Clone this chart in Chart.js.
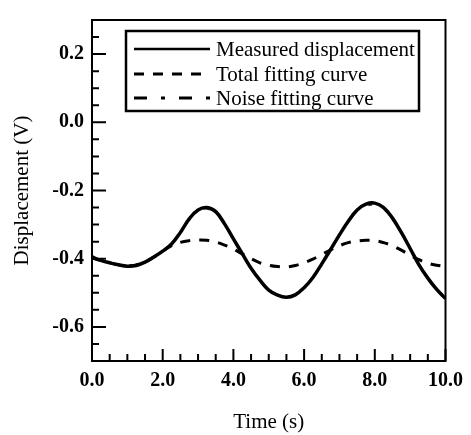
<!DOCTYPE html>
<html>
<head>
<meta charset="utf-8">
<script src="https://cdn.jsdelivr.net/npm/chart.js@4.4.0/dist/chart.umd.min.js"></script>
<style>
  html, body { margin: 0; padding: 0; background: #fff; }
  #wrap { width: 471px; height: 435px; }
</style>
</head>
<body>
<div id="wrap"><canvas id="c" width="471" height="435"></canvas></div>
<script>
// ---- data ----
const time = [0,0.25,0.5,0.75,1,1.25,1.5,1.75,2,2.25,2.5,2.75,3,3.25,3.5,3.75,4,4.25,4.5,4.75,5,5.25,5.5,5.75,6,6.25,6.5,6.75,7,7.25,7.5,7.75,8,8.25,8.5,8.75,9,9.25,9.5,9.75,10];
const measured = [-0.395,-0.405,-0.412,-0.418,-0.422,-0.420,-0.410,-0.395,-0.378,-0.357,-0.323,-0.283,-0.257,-0.250,-0.262,-0.298,-0.342,-0.385,-0.428,-0.463,-0.492,-0.507,-0.513,-0.506,-0.485,-0.455,-0.415,-0.373,-0.330,-0.290,-0.257,-0.240,-0.237,-0.250,-0.281,-0.323,-0.370,-0.418,-0.457,-0.490,-0.517];
const totalFit = [-0.398,-0.405,-0.412,-0.418,-0.421,-0.418,-0.409,-0.395,-0.378,-0.362,-0.352,-0.347,-0.345,-0.346,-0.351,-0.360,-0.372,-0.386,-0.400,-0.412,-0.419,-0.423,-0.424,-0.420,-0.412,-0.401,-0.388,-0.374,-0.362,-0.353,-0.348,-0.346,-0.347,-0.353,-0.362,-0.375,-0.390,-0.403,-0.413,-0.419,-0.423];
const noiseFit = [-0.398,-0.406,-0.413,-0.418,-0.421,-0.419,-0.410,-0.396,-0.379,-0.358,-0.325,-0.287,-0.261,-0.254,-0.265,-0.299,-0.342,-0.384,-0.426,-0.461,-0.489,-0.505,-0.511,-0.504,-0.484,-0.454,-0.415,-0.374,-0.332,-0.294,-0.262,-0.246,-0.243,-0.255,-0.284,-0.325,-0.371,-0.417,-0.455,-0.487,-0.513];
const seriesLabels = ['Measured displacement','Total fitting curve','Noise fitting curve'];
const xMajorTicks = [0,2,4,6,8,10];
const xMinorTicks = [0.5,1,1.5,2.5,3,3.5,4.5,5,5.5,6.5,7,7.5,8.5,9,9.5];
const yMajorTicks = [-0.6,-0.4,-0.2,0.0,0.2];
const yMinorTicks = [-0.65,-0.55,-0.5,-0.45,-0.35,-0.3,-0.25,-0.15,-0.1,-0.05,0.05,0.1,0.15,0.25];

const FONT = "'Liberation Serif', 'DejaVu Serif', serif";
const pts = arr => time.map((t,i) => ({x:t, y:arr[i]}));

const frameAndTicks = {
  id: 'frameAndTicks',
  afterDatasetsDraw(chart) {
    const {ctx, chartArea: a, scales} = chart;
    const xs = scales.x, ys = scales.y;
    ctx.save();
    ctx.strokeStyle = '#000';
    ctx.lineWidth = 2;
    ctx.lineCap = 'butt';
    ctx.setLineDash([]);
    ctx.strokeRect(a.left, a.top, a.right - a.left, a.bottom - a.top);
    ctx.beginPath();
    xMajorTicks.forEach(v => { const p = xs.getPixelForValue(v); ctx.moveTo(p, a.bottom); ctx.lineTo(p, a.bottom - 12); });
    xMinorTicks.forEach(v => { const p = xs.getPixelForValue(v); ctx.moveTo(p, a.bottom); ctx.lineTo(p, a.bottom - 7); });
    yMajorTicks.forEach(v => { const p = ys.getPixelForValue(v); ctx.moveTo(a.left, p); ctx.lineTo(a.left + 14, p); });
    yMinorTicks.forEach(v => { const p = ys.getPixelForValue(v); ctx.moveTo(a.left, p); ctx.lineTo(a.left + 7, p); });
    ctx.stroke();

    // legend box
    const bx = 126, by = 31, bw = 293, bh = 80;
    ctx.fillStyle = '#fff';
    ctx.fillRect(bx, by, bw, bh);
    ctx.lineWidth = 2.5;
    ctx.strokeRect(bx, by, bw, bh);
    const rows = [49, 74, 98];
    chart.data.datasets.forEach((ds, i) => {
      const y = rows[i];
      ctx.beginPath();
      ctx.strokeStyle = '#000';
      ctx.lineWidth = i === 0 ? 2.5 : 3;
      ctx.setLineDash(ds.borderDash || []);
      ctx.moveTo(134, y);
      ctx.lineTo(210, y);
      ctx.stroke();
      ctx.setLineDash([]);
      ctx.fillStyle = '#000';
      ctx.font = '21px ' + FONT;
      ctx.textBaseline = 'middle';
      ctx.textAlign = 'left';
      ctx.fillText(ds.label, 216, y + 1);
    });
    ctx.restore();
  }
};

new Chart(document.getElementById('c'), {
  type: 'line',
  data: {
    datasets: [
      { label: seriesLabels[0], data: pts(measured), borderColor: '#000', borderWidth: 3.5, pointRadius: 0, tension: 0.4, borderDash: [] },
      { label: seriesLabels[1], data: pts(totalFit), borderColor: '#000', borderWidth: 3, pointRadius: 0, tension: 0.4, borderDash: [10, 9] },
      { label: seriesLabels[2], data: pts(noiseFit), borderColor: '#444', borderWidth: 1.5, pointRadius: 0, tension: 0.4, borderDash: [13, 14, 4, 14] }
    ]
  },
  options: {
    responsive: false,
    animation: false,
    events: [],
    layout: { padding: { top: 8, right: 24, left: 0, bottom: 0 } },
    plugins: { legend: { display: false }, tooltip: { enabled: false } },
    scales: {
      x: {
        type: 'linear', min: 0, max: 10,
        afterBuildTicks: s => { s.ticks = xMajorTicks.map(v => ({value: v})); },
        afterFit: s => { s.height = 74; },
        grid: { display: false, drawTicks: false },
        border: { display: false },
        ticks: { color: '#000', font: { family: FONT, size: 20, weight: 'bold' }, padding: 8, maxRotation: 0, callback: v => Number(v).toFixed(1) },
        title: { display: true, text: 'Time (s)', color: '#000', font: { family: FONT, size: 21 }, padding: { top: 0, bottom: 0 } }
      },
      y: {
        type: 'linear', min: -0.7, max: 0.3,
        afterBuildTicks: s => { s.ticks = yMajorTicks.map(v => ({value: v})); },
        afterFit: s => { s.width = 92; },
        grid: { display: false, drawTicks: false },
        border: { display: false },
        ticks: { color: '#000', font: { family: FONT, size: 20, weight: 'bold' }, padding: 8, callback: v => Number(v).toFixed(1) },
        title: { display: true, text: 'Displacement (V)', color: '#000', font: { family: FONT, size: 21 }, padding: { top: 10, bottom: 0 } }
      }
    }
  },
  plugins: [frameAndTicks]
});
</script>
</body>
</html>
